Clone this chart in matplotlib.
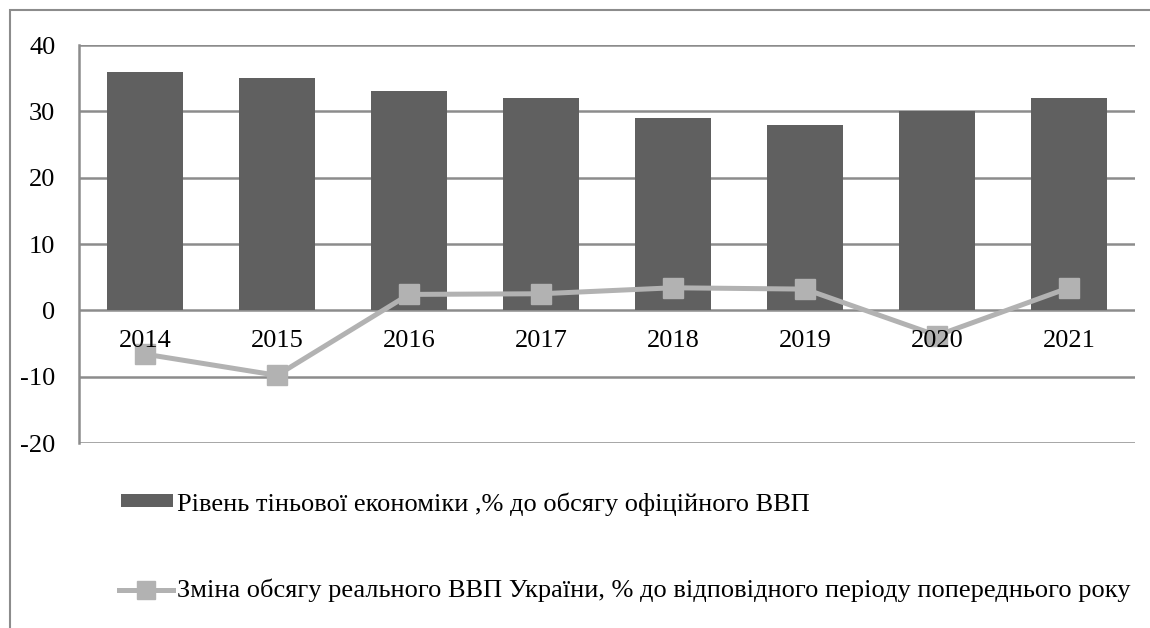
import matplotlib
matplotlib.use("Agg")
import matplotlib.pyplot as plt
from matplotlib.patches import Rectangle
from matplotlib.lines import Line2D

years = ["2014", "2015", "2016", "2017", "2018", "2019", "2020", "2021"]
shadow = [36, 35, 33, 32, 29, 28, 30, 32]
gdp = [-6.6, -9.8, 2.4, 2.5, 3.4, 3.2, -3.8, 3.4]
yticks = [-20, -10, 0, 10, 20, 30, 40]
label_bar = "Рівень тіньової економіки ,% до обсягу офіційного ВВП"
label_line = "Зміна обсягу реального ВВП України, % до відповідного періоду попереднього року"

plt.rcParams['font.family'] = ['Liberation Serif', 'DejaVu Serif']

W, H = 1150, 628
fig = plt.figure(figsize=(W/100, H/100), dpi=100)
# outer border
fig.patches.append(Rectangle((10/W, -0.1), 1.2, (H-10)/H + 0.1, transform=fig.transFigure,
                             fill=False, edgecolor='#8c8c8c', linewidth=1.5))

ax = fig.add_axes([79/W, 1-443/H, (1135-79)/W, (443-45)/H])
x = list(range(len(years)))
ax.bar(x, shadow, width=0.57, color='#606060', zorder=2)
ax.plot(x, gdp, color='#b2b2b2', linewidth=3.6, marker='s', markersize=14,
        markerfacecolor='#b2b2b2', markeredgecolor='#b2b2b2', zorder=3)
ax.set_xlim(-0.5, len(years)-0.5)
ax.set_ylim(-20, 40)
ax.set_yticks(yticks)
ax.set_yticklabels([str(t) for t in yticks], fontsize=19)
for t in yticks:
    ax.axhline(t, color='#8c8c8c', linewidth=1.8, zorder=1)
ax.set_xticks([])
for i, yr in enumerate(years):
    ax.text(i, -4.6, yr, ha='center', va='center', fontsize=19, zorder=4)
for s in ['top', 'right', 'bottom']:
    ax.spines[s].set_visible(False)
ax.spines['left'].set_color('#8c8c8c')
ax.spines['left'].set_linewidth(1.8)
ax.tick_params(axis='y', length=0, pad=17)

# legend
fig.patches.append(Rectangle((121/W, 1-507/H), 52/W, 13/H, transform=fig.transFigure,
                             facecolor='#606060', edgecolor='none'))
fig.text(177/W, 1-504/H, label_bar, fontsize=19, va='center', ha='left')
fig.lines.append(Line2D([119/W, 146/W, 173/W], [1-590/H]*3, transform=fig.transFigure,
                        color='#b2b2b2', linewidth=3.6, marker='s', markersize=13,
                        markevery=[1], markerfacecolor='#b2b2b2', markeredgecolor='#b2b2b2'))
fig.text(177/W, 1-590/H, label_line, fontsize=19, va='center', ha='left')

fig.savefig("out.png", dpi=100)
